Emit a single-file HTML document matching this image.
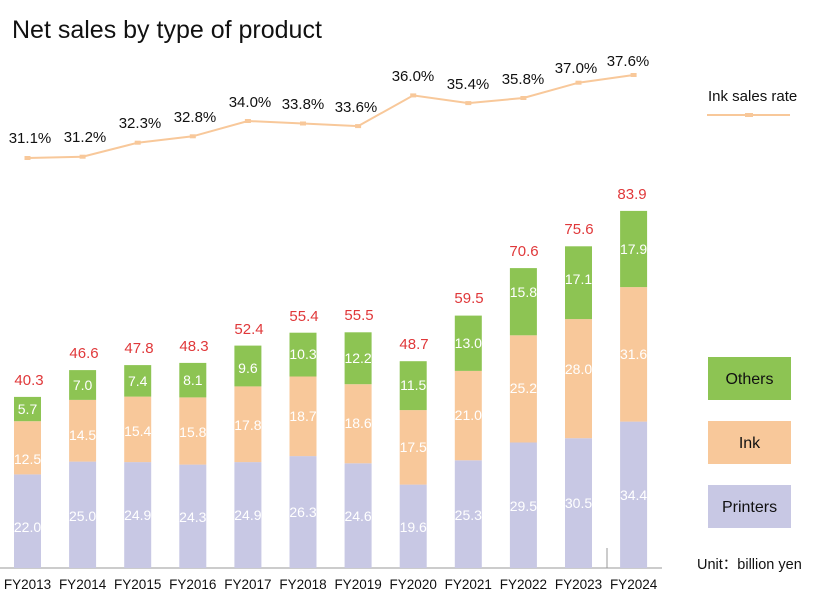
<!DOCTYPE html>
<html><head><meta charset="utf-8"><style>
html,body{margin:0;padding:0;background:#fff;}
svg{display:block;font-family:"Liberation Sans",sans-serif;}
</style></head><body>
<svg width="823" height="594" viewBox="0 0 823 594" xmlns="http://www.w3.org/2000/svg">
<text x="12" y="38" font-size="25" fill="#111">Net sales by type of product</text>

<polyline fill="none" stroke="#f8c89a" stroke-width="2" points="27.5,158 82.6,156.7 137.7,142.7 192.8,136.3 247.9,121 303,123.5 358.1,126.1 413.2,95.4 468.3,103.1 523.4,98 578.5,82.7 633.6,75"/>
<g fill="#f8c89a">
<rect x="24.5" y="156" width="6" height="4"/><rect x="79.6" y="154.7" width="6" height="4"/><rect x="134.7" y="140.7" width="6" height="4"/><rect x="189.8" y="134.3" width="6" height="4"/><rect x="244.9" y="119" width="6" height="4"/><rect x="300" y="121.5" width="6" height="4"/><rect x="355.1" y="124.1" width="6" height="4"/><rect x="410.2" y="93.4" width="6" height="4"/><rect x="465.3" y="101.1" width="6" height="4"/><rect x="520.4" y="96" width="6" height="4"/><rect x="575.5" y="80.7" width="6" height="4"/><rect x="630.6" y="73" width="6" height="4"/>
</g>
<g font-size="15" fill="#111" text-anchor="middle">
<text x="30" y="143">31.1%</text><text x="85" y="142">31.2%</text><text x="140" y="128">32.3%</text><text x="195" y="122">32.8%</text><text x="250" y="107">34.0%</text><text x="303" y="109">33.8%</text><text x="356" y="112">33.6%</text><text x="413" y="81">36.0%</text><text x="468" y="89">35.4%</text><text x="523" y="84">35.8%</text><text x="576" y="73">37.0%</text><text x="628" y="66">37.6%</text>
</g>

<line x1="0" y1="568" x2="662" y2="568" stroke="#999" stroke-width="1"/>
<line x1="607" y1="548" x2="607" y2="568" stroke="#999" stroke-width="1"/>

<g fill="#c8c8e4">
<rect x="14" y="474.4" width="27" height="93.6"/><rect x="69.1" y="461.6" width="27" height="106.4"/><rect x="124.2" y="462.1" width="27" height="105.9"/><rect x="179.3" y="464.6" width="27" height="103.4"/><rect x="234.4" y="462.1" width="27" height="105.9"/><rect x="289.5" y="456.1" width="27" height="111.9"/><rect x="344.6" y="463.3" width="27" height="104.7"/><rect x="399.7" y="484.6" width="27" height="83.4"/><rect x="454.8" y="460.3" width="27" height="107.7"/><rect x="509.9" y="442.5" width="27" height="125.5"/><rect x="565" y="438.2" width="27" height="129.8"/><rect x="620.1" y="421.6" width="27" height="146.4"/>
</g>
<g fill="#f8c89a">
<rect x="14" y="421.2" width="27" height="53.2"/><rect x="69.1" y="399.9" width="27" height="61.7"/><rect x="124.2" y="396.6" width="27" height="65.5"/><rect x="179.3" y="397.4" width="27" height="67.2"/><rect x="234.4" y="386.4" width="27" height="75.7"/><rect x="289.5" y="376.5" width="27" height="79.6"/><rect x="344.6" y="384.2" width="27" height="79.1"/><rect x="399.7" y="410.1" width="27" height="74.5"/><rect x="454.8" y="370.9" width="27" height="89.4"/><rect x="509.9" y="335.3" width="27" height="107.2"/><rect x="565" y="319.1" width="27" height="119.1"/><rect x="620.1" y="287.1" width="27" height="134.5"/>
</g>
<g fill="#8dc453">
<rect x="14" y="396.9" width="27" height="24.3"/><rect x="69.1" y="370.1" width="27" height="29.8"/><rect x="124.2" y="365.1" width="27" height="31.5"/><rect x="179.3" y="362.9" width="27" height="34.5"/><rect x="234.4" y="345.6" width="27" height="40.8"/><rect x="289.5" y="332.7" width="27" height="43.8"/><rect x="344.6" y="332.3" width="27" height="51.9"/><rect x="399.7" y="361.2" width="27" height="48.9"/><rect x="454.8" y="315.6" width="27" height="55.3"/><rect x="509.9" y="268.1" width="27" height="67.2"/><rect x="565" y="246.3" width="27" height="72.8"/><rect x="620.1" y="210.9" width="27" height="76.2"/>
</g>

<g font-size="14" fill="#fff" text-anchor="middle">
<text x="27.5" y="532">22.0</text><text x="82.6" y="521">25.0</text><text x="137.7" y="520">24.9</text><text x="192.8" y="522">24.3</text><text x="247.9" y="520">24.9</text><text x="303" y="517">26.3</text><text x="358.1" y="521">24.6</text><text x="413.2" y="532">19.6</text><text x="468.3" y="520">25.3</text><text x="523.4" y="511">29.5</text><text x="578.5" y="508">30.5</text><text x="633.6" y="500">34.4</text>
<text x="27.5" y="464">12.5</text><text x="82.6" y="440">14.5</text><text x="137.7" y="436">15.4</text><text x="192.8" y="437">15.8</text><text x="247.9" y="430">17.8</text><text x="303" y="421">18.7</text><text x="358.1" y="428">18.6</text><text x="413.2" y="452">17.5</text><text x="468.3" y="420">21.0</text><text x="523.4" y="393">25.2</text><text x="578.5" y="374">28.0</text><text x="633.6" y="359">31.6</text>
<text x="27.5" y="414">5.7</text><text x="82.6" y="390">7.0</text><text x="137.7" y="386">7.4</text><text x="192.8" y="385">8.1</text><text x="247.9" y="373">9.6</text><text x="303" y="359">10.3</text><text x="358.1" y="363">12.2</text><text x="413.2" y="390">11.5</text><text x="468.3" y="348">13.0</text><text x="523.4" y="297">15.8</text><text x="578.5" y="284">17.1</text><text x="633.6" y="254">17.9</text>
</g>

<g font-size="15" fill="#e0383a" text-anchor="middle">
<text x="29" y="385">40.3</text><text x="84" y="358">46.6</text><text x="139" y="353">47.8</text><text x="194" y="351">48.3</text><text x="249" y="334">52.4</text><text x="304" y="321">55.4</text><text x="359" y="320">55.5</text><text x="414" y="349">48.7</text><text x="469" y="303">59.5</text><text x="524" y="256">70.6</text><text x="579" y="234">75.6</text><text x="632" y="199">83.9</text>
</g>

<g font-size="13.5" fill="#111" text-anchor="middle">
<text x="27.5" y="589">FY2013</text><text x="82.6" y="589">FY2014</text><text x="137.7" y="589">FY2015</text><text x="192.8" y="589">FY2016</text><text x="247.9" y="589">FY2017</text><text x="303" y="589">FY2018</text><text x="358.1" y="589">FY2019</text><text x="413.2" y="589">FY2020</text><text x="468.3" y="589">FY2021</text><text x="523.4" y="589">FY2022</text><text x="578.5" y="589">FY2023</text><text x="633.6" y="589">FY2024</text>
</g>

<text x="708" y="101" font-size="15" fill="#111">Ink sales rate</text>
<line x1="707" y1="115" x2="790" y2="115" stroke="#f8c89a" stroke-width="2"/>
<rect x="745" y="113" width="8" height="4" fill="#f8c89a"/>
<rect x="708" y="357" width="83" height="43" fill="#8dc453"/>
<rect x="708" y="421" width="83" height="43" fill="#f8c89a"/>
<rect x="708" y="485" width="83" height="43" fill="#c8c8e4"/>
<g font-size="16" fill="#111" text-anchor="middle">
<text x="749.5" y="384">Others</text><text x="749.5" y="448">Ink</text><text x="749.5" y="512">Printers</text>
</g>
<text x="697" y="569" font-size="14.5" fill="#111">Unit：billion yen</text>
</svg>
</body></html>
